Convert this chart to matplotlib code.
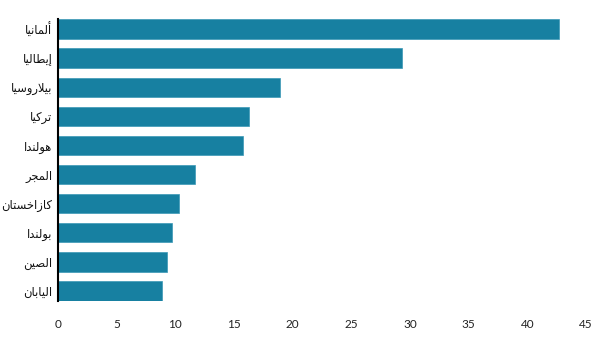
import unicodedata
import numpy as np
import matplotlib
matplotlib.use("Agg")
import matplotlib.pyplot as plt

# data (top to bottom)
countries = ["ألمانيا", "إيطاليا", "بيلاروسيا", "تركيا", "هولندا",
             "المجر", "كازاخستان", "بولندا", "الصين", "اليابان"]
values = [42.7, 29.3, 18.9, 16.3, 15.8, 11.7, 10.3, 9.7, 9.3, 8.9]
xticks = [0, 5, 10, 15, 20, 25, 30, 35, 40, 45]

# letters that only join to the previous one
RIGHT_ONLY = set("اأإآدذرزوؤةى")
ALEFS = set("اأإآ")


def shape(word):
    # tiny Arabic shaper: presentation forms + visual (reversed) order
    toks = []
    i = 0
    while i < len(word):
        c = word[i]
        if c == "ل" and i + 1 < len(word) and word[i + 1] in ALEFS:
            base = unicodedata.name(word[i + 1]).replace("ARABIC LETTER ", "")
            toks.append(("ARABIC LIGATURE LAM WITH " + base, "R"))
            i += 2
            continue
        name = unicodedata.name(c)
        toks.append((name, "R" if c in RIGHT_ONLY else "D"))
        i += 1
    out = []
    for k, (name, t) in enumerate(toks):
        prev = k > 0 and toks[k - 1][1] == "D"
        nxt = t == "D" and k < len(toks) - 1
        if prev and nxt:
            form = "MEDIAL"
        elif prev:
            form = "FINAL"
        elif nxt:
            form = "INITIAL"
        else:
            form = "ISOLATED"
        try:
            out.append(unicodedata.lookup(name + " " + form + " FORM"))
        except KeyError:
            out.append(unicodedata.lookup(name))
    return "".join(reversed(out))


fig = plt.figure(figsize=(6, 3.37), dpi=100)
ax = fig.add_axes([0.0967, 0.1077, 0.88, 0.835])

y = np.arange(len(values))
ax.barh(y, values, height=0.667, color="#1780a1", edgecolor="#3a98b6", linewidth=0.5)

ax.set_xlim(0, 45)
ax.set_ylim(len(values) - 0.667, -0.333)
ax.set_xticks(xticks)
ax.set_xticklabels([str(t) for t in xticks], fontsize=8.5, family="Lato", color="#222222")
ax.set_yticks(y)
ax.set_yticklabels([shape(c) for c in countries], fontsize=8.3, family="DejaVu Sans", color="#111111")
ax.tick_params(axis="x", length=0, pad=13)
ax.tick_params(axis="y", length=0, pad=4)

for s in ["top", "right", "bottom"]:
    ax.spines[s].set_visible(False)
ax.spines["left"].set_linewidth(1.5)
ax.spines["left"].set_color("black")

fig.savefig("out.png", dpi=100)
